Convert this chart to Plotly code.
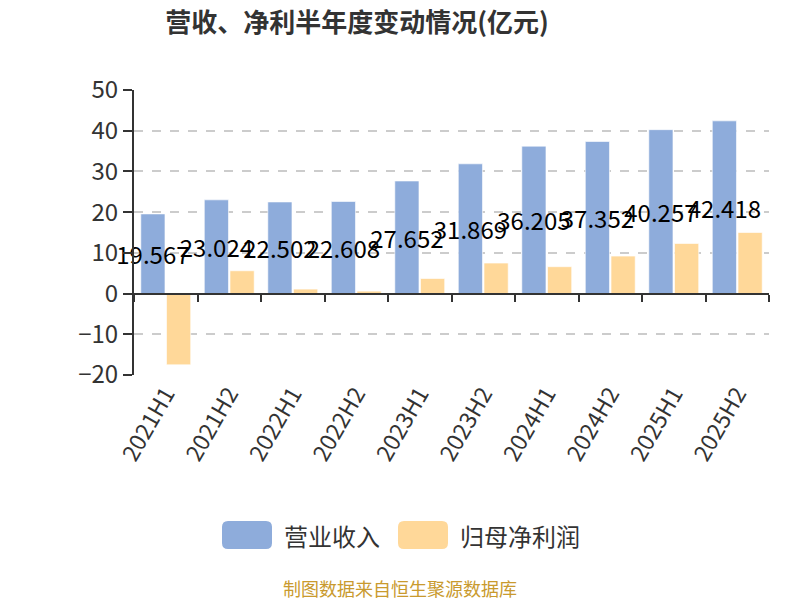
import plotly.graph_objects as go

categories = ["2021H1", "2021H2", "2022H1", "2022H2", "2023H1",
              "2023H2", "2024H1", "2024H2", "2025H1", "2025H2"]
revenue = [19.567, 23.024, 22.502, 22.608, 27.652,
           31.869, 36.205, 37.352, 40.257, 42.418]
net_profit = [-17.5, 5.6, 1.1, 0.6, 3.7, 7.5, 6.6, 9.2, 12.3, 15.0]
revenue_labels = [f"{v:.3f}" for v in revenue]
series_names = ["营业收入", "归母净利润"]
y_ticks = [50, 40, 30, 20, 10, 0, -10, -20]

FONT = "Noto Sans CJK SC"
BLUE = "#8EACDB"
ORANGE = "#FFD899"
COLORS = [BLUE, ORANGE]

# plot area in page pixels (used only for placing legend / footer)
L, R, T, B = 134, 769, 90, 375
PW, PH = R - L, B - T


def px(xp):
    return (xp - L) / PW


def py(yp):
    return (B - yp) / PH


fig = go.Figure()
fig.add_trace(go.Bar(
    x=categories, y=revenue, name=series_names[0],
    marker=dict(color=BLUE, line=dict(color="rgba(255,255,255,0.6)", width=1)),
    text=revenue_labels, textposition="inside", insidetextanchor="middle",
    textangle=0, constraintext="none", cliponaxis=False,
    textfont=dict(color="#000000", size=24, family=FONT),
    hoverinfo="skip", showlegend=False,
))
fig.add_trace(go.Bar(
    x=categories, y=net_profit, name=series_names[1],
    marker=dict(color=ORANGE, line=dict(color="rgba(255,255,255,0.6)", width=1)),
    hoverinfo="skip", showlegend=False,
))
# helper trace to carry the axis-at-zero tick marks
fig.add_trace(go.Scatter(
    x=categories, y=[0] * len(categories), xaxis="x2", yaxis="y",
    mode="markers", marker=dict(opacity=0), showlegend=False, hoverinfo="skip",
))

# custom legend (rounded swatches + labels)
shapes = []
annotations = []
legend_x = [222, 398]
for i, name in enumerate(series_names):
    x0, x1 = legend_x[i], legend_x[i] + 50
    y0, y1 = 521, 549
    r = 6
    path = (f"M {px(x0 + r)},{py(y0)} L {px(x1 - r)},{py(y0)} "
            f"Q {px(x1)},{py(y0)} {px(x1)},{py(y0 + r)} "
            f"L {px(x1)},{py(y1 - r)} Q {px(x1)},{py(y1)} {px(x1 - r)},{py(y1)} "
            f"L {px(x0 + r)},{py(y1)} Q {px(x0)},{py(y1)} {px(x0)},{py(y1 - r)} "
            f"L {px(x0)},{py(y0 + r)} Q {px(x0)},{py(y0)} {px(x0 + r)},{py(y0)} Z")
    shapes.append(dict(type="path", path=path, xref="paper", yref="paper",
                       fillcolor=COLORS[i], line=dict(width=0), layer="above"))
    annotations.append(dict(
        text=name, xref="paper", yref="paper", x=px(x1 + 10), y=py(535),
        xanchor="left", yanchor="middle", showarrow=False,
        font=dict(size=24, color="#333333", family=FONT)))

annotations.append(dict(
    text="制图数据来自恒生聚源数据库", xref="paper", yref="paper",
    x=px(400), y=py(588), xanchor="center", yanchor="middle",
    showarrow=False, font=dict(size=18, color="#C99A2E", family=FONT),
))

fig.update_layout(
    width=800, height=600,
    paper_bgcolor="white", plot_bgcolor="white",
    font=dict(family=FONT, color="#333333"),
    margin=dict(l=L, r=800 - R, t=T, b=600 - B),
    barmode="group", bargap=0.19, bargroupgap=0.06,
    showlegend=False,
    title=dict(text="<b>营收、净利半年度变动情况(亿元)</b>",
               x=357 / 800, xanchor="center", y=1 - 23 / 600, yanchor="middle",
               font=dict(size=26, color="#333333", family=FONT)),
    xaxis=dict(
        type="category", showline=False, showgrid=False, ticks="",
        tickangle=-60, tickfont=dict(size=23, color="#333333", family=FONT),
        range=[-0.5, len(categories) - 0.5],
    ),
    xaxis2=dict(
        type="category", overlaying="x", anchor="free",
        position=20 / 70, matches="x",
        showline=True, linecolor="#333333", linewidth=2,
        ticks="outside", ticklen=7, tickwidth=2, tickcolor="#333333",
        tickson="boundaries", showticklabels=False, showgrid=False,
    ),
    yaxis=dict(
        range=[-20, 50], tickvals=y_ticks,
        showline=True, linecolor="#333333", linewidth=2,
        ticks="outside", ticklen=9, tickwidth=2, tickcolor="#333333",
        tickfont=dict(size=24, color="#333333", family=FONT),
        showgrid=True, gridcolor="#cccccc", griddash="dash", gridwidth=1.5,
        zeroline=False,
    ),
    shapes=shapes,
    annotations=annotations,
)

fig.write_html("out.html", config={"displayModeBar": False},
               post_script="document.body.style.margin='0';")
